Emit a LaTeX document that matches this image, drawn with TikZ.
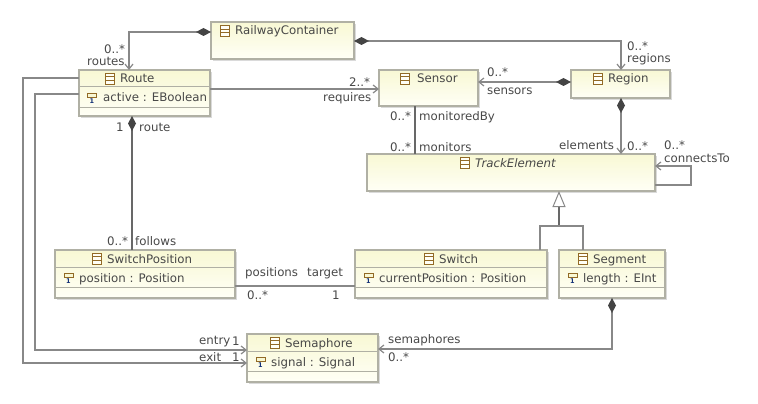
\documentclass[tikz,border=0pt]{standalone}
\usepackage{fontspec}
\setmainfont{DejaVu Sans}
\usetikzlibrary{arrows.meta,shadows}

\definecolor{eboxtop}{RGB}{248,248,212}
\definecolor{eboxbottom}{RGB}{255,255,246}
\definecolor{eborder}{RGB}{176,176,164}
\definecolor{eshadow}{RGB}{218,218,218}
\definecolor{eline}{RGB}{136,136,136}
\definecolor{edark}{RGB}{104,104,104}
\definecolor{etip}{RGB}{68,68,68}
\definecolor{etext}{RGB}{72,72,72}
\definecolor{eicon}{RGB}{146,106,38}
\definecolor{eone}{RGB}{20,50,120}

\tikzset{
    x=1pt, y=-1pt,
    eclass/.style={draw=eborder, line width=1.3pt, top color=eboxtop, bottom color=eboxbottom,
        inner sep=0pt, outer sep=0pt, anchor=north west,
        general shadow={fill=eshadow, shadow xshift=2pt, shadow yshift=-2pt}},
    ename/.style={anchor=base west, inner sep=0pt, text=etext, font=\fontsize{11.8}{13}\selectfont},
    elabel/.style={ename},
    esep/.style={draw=eborder, line width=1pt},
    assoc/.style={draw=eline, line width=1.2pt, -{Straight Barb[length=5pt,width=8pt]}},
    compo/.style={assoc, {Diamond[length=15pt,width=8pt,fill=etip,color=etip]}-{Straight Barb[length=5pt,width=8pt]}},
    compodark/.style={draw=edark, line width=1.5pt, {Diamond[length=15pt,width=8pt,fill=etip,color=etip]}-},
    link/.style={draw=eline, line width=1.2pt},
    linkdark/.style={draw=edark, line width=1.5pt},
    genline/.style={draw=edark, line width=1.5pt, -{Triangle[open,length=16pt,width=13pt,fill=white,color=eline,line width=1pt]}},
    classicon/.pic={
        \draw[eicon, line width=0.8pt, fill=eboxbottom] (-4.5,-5.5) rectangle (4.5,5.5);
        \draw[eicon, line width=0.8pt] (-4.5,-1.8) -- (4.5,-1.8) (-4.5,1.8) -- (4.5,1.8);
    },
    attricon/.pic={
        \draw[eicon, line width=0.9pt, fill=eboxtop] (-4.5,-2.5) rectangle (4.5,1);
        \node[inner sep=0pt, text=eone, font=\bfseries\fontsize{6.5}{7}\selectfont] (one) at (0,5) {1};
    },
}

\begin{document}
\begin{tikzpicture}
    \useasboundingbox (0,0) rectangle (758,404);

    % Classes
    \node[eclass, minimum width=143, minimum height=37] (railway) at (211,22) {};
    \node[eclass, minimum width=131, minimum height=46] (route) at (79,70) {};
    \node[eclass, minimum width=99, minimum height=36] (sensor) at (379,70) {};
    \node[eclass, minimum width=99, minimum height=28] (region) at (571,70) {};
    \node[eclass, minimum width=288, minimum height=37] (trackelement) at (367,154) {};
    \node[eclass, minimum width=180, minimum height=48] (switchposition) at (55,250) {};
    \node[eclass, minimum width=192, minimum height=48] (switch) at (355,250) {};
    \node[eclass, minimum width=106, minimum height=48] (segment) at (559,250) {};
    \node[eclass, minimum width=131, minimum height=48] (semaphore) at (247,334) {};

    % Compartments
    \draw[esep] (route.west |- 0,87) -- (route.east |- 0,87) (route.west |- 0,107) -- (route.east |- 0,107);
    \draw[esep] (switchposition.west |- 0,267) -- (switchposition.east |- 0,267) (switchposition.west |- 0,287) -- (switchposition.east |- 0,287);
    \draw[esep] (switch.west |- 0,267) -- (switch.east |- 0,267) (switch.west |- 0,287) -- (switch.east |- 0,287);
    \draw[esep] (segment.west |- 0,267) -- (segment.east |- 0,267) (segment.west |- 0,287) -- (segment.east |- 0,287);
    \draw[esep] (semaphore.west |- 0,351) -- (semaphore.east |- 0,351) (semaphore.west |- 0,371) -- (semaphore.east |- 0,371);

    % Class names
    \foreach \name/\x/\y/\txt in {railwayname/235/35/RailwayContainer, routename/120/83/Route,
        sensorname/417/83/Sensor, regionname/608/83/Region, trackname/475/167/\textit{TrackElement},
        switchposname/107/263/SwitchPosition, switchname/439/263/Switch,
        segmentname/593/263/Segment, semaphorename/285/347/Semaphore}
        \node[ename] (\name) at (\x,\y) {\txt};
    \foreach \name/\x/\y in {railwayicon/225/31, routeicon/109.5/78.5, sensoricon/405/78.5,
        regionicon/597.5/78.5, trackicon/464.5/162.5, switchposicon/96.5/258.5,
        switchicon/428.5/258.5, segmenticon/582.5/258.5, semaphoreicon/274.5/342.5}
        \pic (\name) at (\x,\y) {classicon};

    % Attributes
    \foreach \name/\x/\y/\txt in {active/103/102/active : EBoolean, position/79/282/position : Position,
        current/379/282/currentPosition : Position, length/583/282/length : EInt,
        signal/271/366/signal : Signal}
        \node[ename] (\name) at (\x,\y) {\txt};
    \foreach \name/\x/\y in {activeicon/92/96, positionicon/68.5/276, currenticon/368.5/276,
        lengthicon/572.5/276, signalicon/260.5/360}
        \pic (\name) at (\x,\y) {attricon};

    % References
    \draw[compo] (railway.west |- 0,32) -| (route.north -| 129,0);
    \draw[compo] (railway.east |- 0,41) -| (region.north -| 621,0);
    \draw[assoc] (route.east |- 0,89) -- (sensor.west |- 0,89);
    \draw[compo] (region.west |- 0,82) -- (sensor.east |- 0,82);
    \draw[compo] (region.south -| 621,0) -- (trackelement.north -| 621,0);
    \draw[linkdark] (sensor.south -| 415,0) -- (trackelement.north -| 415,0);
    \draw[assoc] (trackelement.east |- 0,185) -- ++(36,0) |- (trackelement.east |- 0,166);
    \draw[compodark] (route.south -| 132,0) -- (switchposition.north -| 132,0);
    \draw[link] (switchposition.east |- 0,286) -- (switch.west |- 0,286);
    \draw[compo] (segment.south -| 612,0) |- (semaphore.east |- 0,349);
    \draw[assoc] (route.west |- 0,94) -- ++(-44,0) |- (semaphore.west |- 0,350);
    \draw[assoc] (route.west |- 0,78) -- ++(-56,0) |- (semaphore.west |- 0,363);

    % Inheritance
    \coordinate (genjoint) at (559,226);
    \draw[genline] (genjoint) -- (trackelement.south -| genjoint);
    \draw[link] (switch.north -| 540,0) |- (genjoint) -| (segment.north -| 583,0);

    % Role names and multiplicities
    \foreach \name/\x/\y/\txt in {routesmult/104/54/0..*, routesrole/87/66/routes,
        regionsmult/627/51/0..*, regionsrole/627/63/regions,
        requiresmult/349/86/2..*, requiresrole/323/101/requires,
        sensorsmult/487/77/0..*, sensorsrole/487/95/sensors,
        routemult/116/131/1, routerole/139/131/route,
        monitoredmult/390/120/0..*, monitoredrole/419/120/monitoredBy,
        monitorsmult/390/151/0..*, monitorsrole/419/151/monitors,
        elementsrole/559/149/elements, elementsmult/627/150/0..*,
        connectsmult/664/149/0..*, connectsrole/664/162/connectsTo,
        followsmult/107/245/0..*, followsrole/135/245/follows,
        positionsrole/245/276/positions, targetrole/307/276/target,
        positionsmult/247/299/0..*, targetmult/332/299/1,
        entryrole/199/344/entry, entrymult/232/345/1,
        exitrole/199/361/exit, exitmult/232/361/1,
        semaphoresrole/388/343/semaphores, semaphoresmult/388/361/0..*}
        \node[elabel] (\name) at (\x,\y) {\txt};
\end{tikzpicture}
\end{document}
